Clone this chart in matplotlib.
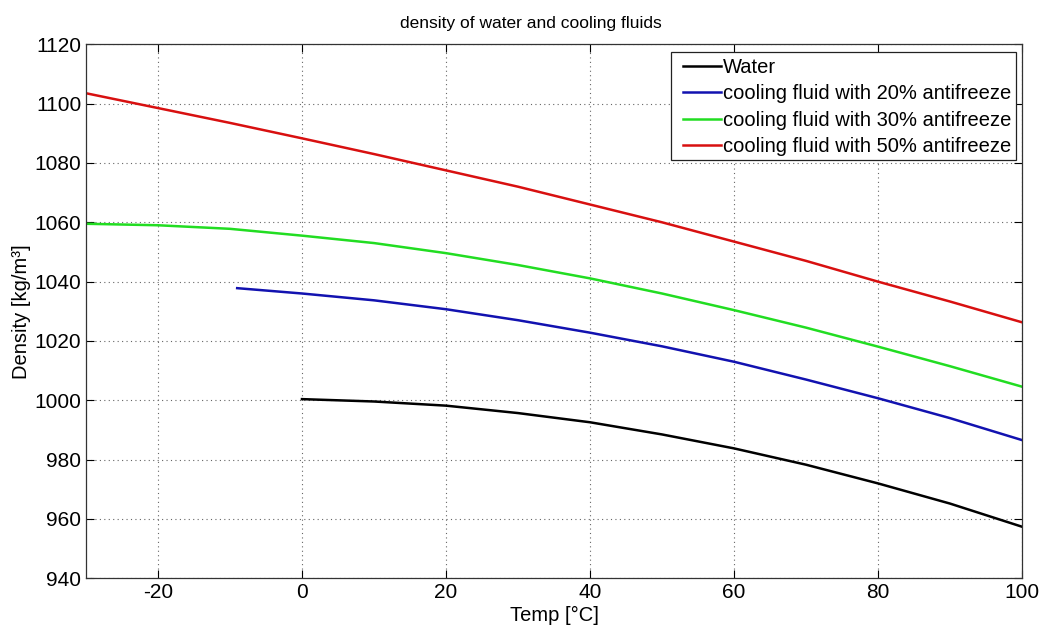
import numpy as np
import matplotlib
matplotlib.use('Agg')
import matplotlib.pyplot as plt
from matplotlib.patches import Rectangle

plt.rcParams['font.family'] = ['Liberation Sans', 'DejaVu Sans']
plt.rcParams['axes.unicode_minus'] = False

# values
t_water = [0, 10, 20, 30, 40, 50, 60, 70, 80, 90, 100]
rho_water = [1000.4, 999.6, 998.2, 995.7, 992.6, 988.5, 983.8, 978.3, 972.0, 965.2, 957.4]

t_20 = [-9, 0, 10, 20, 30, 40, 50, 60, 70, 80, 90, 100]
rho_20 = [1037.8, 1036.0, 1033.7, 1030.7, 1027.0, 1022.8, 1018.2, 1013.0, 1007.0, 1000.7, 994.0, 986.6]

t_30 = [-30, -20, -10, 0, 10, 20, 30, 40, 50, 60, 70, 80, 90, 100]
rho_30 = [1059.5, 1059.0, 1057.8, 1055.5, 1053.0, 1049.6, 1045.6, 1041.1, 1036.0, 1030.4, 1024.5, 1018.1, 1011.5, 1004.6]

t_50 = [-30, -20, -10, 0, 10, 20, 30, 40, 50, 60, 70, 80, 90, 100]
rho_50 = [1103.5, 1098.5, 1093.5, 1088.3, 1083.0, 1077.5, 1072.0, 1066.0, 1060.0, 1053.5, 1047.0, 1040.0, 1033.3, 1026.3]

labels = ['Water', 'cooling fluid with 20% antifreeze',
          'cooling fluid with 30% antifreeze', 'cooling fluid with 50% antifreeze']
colors = ['#000000', '#1212b0', '#22dd22', '#d81010']

W, H = 1041, 628
fig = plt.figure(figsize=(W / 100, H / 100), dpi=100)
ax = fig.add_axes([0.0826, 0.0791, 0.8991, 0.8504])

for t, r, lab, c in zip([t_water, t_20, t_30, t_50], [rho_water, rho_20, rho_30, rho_50], labels, colors):
    ax.plot(t, r, color=c, lw=1.8, label=lab)

ax.set_xlim(-30, 100)
ax.set_ylim(940, 1120)
ax.set_xticks(np.arange(-20, 101, 20))
ax.set_yticks(np.arange(940, 1121, 20))
ax.grid(True, linestyle=(0, (1, 3)), color='#666666', lw=0.8)
ax.tick_params(direction='in', length=6, top=True, right=True, labelsize=15, width=0.8)
for s in ax.spines.values():
    s.set_color('#333333')
    s.set_linewidth(0.9)

ax.set_title('density of water and cooling fluids', fontsize=12.5, pad=12, x=0.475)
ax.set_xlabel('Temp [°C]', fontsize=14.5, labelpad=3)
ax.set_ylabel('Density [kg/m³]', fontsize=14.5, labelpad=2)

# legend box drawn by hand to match the MATLAB box
box = Rectangle((671 / W, 1 - 159.5 / H), (1016 - 671) / W, (159.5 - 51.7) / H,
                transform=fig.transFigure, facecolor='white', edgecolor='#222222',
                lw=0.9, zorder=4, clip_on=False)
ax.add_patch(box)
leg = ax.legend(loc='upper right', bbox_to_anchor=(1017 / W, 1 - 51.7 / H),
                bbox_transform=fig.transFigure, borderaxespad=0, fontsize=14.5,
                frameon=False, handlelength=1.85, handletextpad=0.1,
                labelspacing=0.37, borderpad=0.3)
leg.set_zorder(5)

fig.savefig('out.png', dpi=100)
